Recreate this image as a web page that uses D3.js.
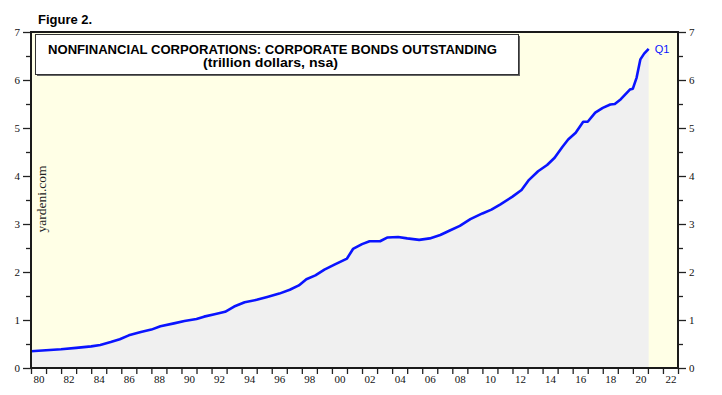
<!DOCTYPE html>
<html>
<head>
<meta charset="utf-8">
<script src="https://cdn.jsdelivr.net/npm/d3@7"></script>
<style>
  body { margin: 0; background: #fff; }
  svg { display: block; }
  .tick text { font-family: "Liberation Serif", "Times New Roman", serif; font-size: 11px; fill: #111; }
</style>
</head>
<body>
<svg id="chart" width="722" height="395"></svg>
<script>
// quarterly readings (decimal year), trillion dollars
let dates = [1980.0, 1981.0, 1982.0, 1983.0, 1984.0, 1984.6, 1985.3, 1985.9, 1986.5, 1987.3,
  1988.0, 1988.6, 1989.5, 1990.2, 1991.0, 1991.5, 1992.2, 1992.9, 1993.5, 1994.2,
  1995.0, 1995.7, 1996.5, 1997.2, 1997.8, 1998.3, 1998.9, 1999.5, 2000.2, 2001.0,
  2001.4, 2002.0, 2002.5, 2003.2, 2003.7, 2004.4, 2005.0, 2005.8, 2006.5, 2007.2,
  2007.8, 2008.5, 2009.2, 2010.0, 2010.6, 2011.2, 2012.0, 2012.6, 2013.1, 2013.7,
  2014.3, 2014.8, 2015.3, 2015.7, 2016.2, 2016.7, 2017.0, 2017.5, 2018.0, 2018.5,
  2018.8, 2019.2, 2019.8, 2020.0, 2020.25, 2020.5, 2020.75, 2021.05];
let bonds = [0.35, 0.37, 0.39, 0.42, 0.45, 0.48, 0.54, 0.60, 0.68, 0.75,
  0.80, 0.87, 0.93, 0.98, 1.02, 1.07, 1.12, 1.17, 1.28, 1.37,
  1.42, 1.48, 1.55, 1.63, 1.72, 1.85, 1.93, 2.05, 2.16, 2.28,
  2.48, 2.58, 2.64, 2.64, 2.72, 2.73, 2.70, 2.67, 2.70, 2.77,
  2.86, 2.96, 3.10, 3.22, 3.30, 3.41, 3.57, 3.71, 3.92, 4.10,
  4.23, 4.38, 4.60, 4.76, 4.90, 5.13, 5.13, 5.32, 5.42, 5.49,
  5.50, 5.60, 5.80, 5.82, 6.05, 6.43, 6.55, 6.65];
let yearTicks = d3.range(1980, 2024);
let yearLabels = d3.range(1980, 2023, 2);
let valueTicks = d3.range(0, 8);
let minorTicks = d3.range(0.5, 7, 1);

let svg = d3.select("#chart");
let [x0, x1, y0, y1] = [31, 678, 32, 368];
let x = d3.scaleLinear().domain([1980, 2023]).range([x0, x1]);
let y = d3.scaleLinear().domain([0, 7]).range([y1, y0]);
let sans = "Liberation Sans, Arial, sans-serif";

// plot background
svg.append("rect")
  .attr("x", x0).attr("y", y0)
  .attr("width", x1 - x0).attr("height", y1 - y0)
  .attr("fill", "#ffffe6");

let pts = dates.map((d, i) => [d, bonds[i]]);
let area = d3.area().x(d => x(d[0])).y0(y(0)).y1(d => y(d[1]));
svg.append("path").attr("d", area(pts)).attr("fill", "#f0f0f0");

let line = d3.line().x(d => x(d[0])).y(d => y(d[1]));
svg.append("path").attr("d", line(pts))
  .attr("fill", "none").attr("stroke", "#0a14ff")
  .attr("stroke-width", 2.6).attr("stroke-linejoin", "round");

// axes
svg.append("g").attr("transform", `translate(0,${y1})`)
  .call(d3.axisBottom(x).tickValues(yearTicks).tickSize(6).tickFormat(""));
svg.append("g").attr("transform", `translate(0,${y1})`)
  .call(d3.axisBottom(x).tickValues(yearLabels.map(v => v + 0.5)).tickSize(0).tickPadding(7)
    .tickFormat(v => String(Math.floor(v) % 100).padStart(2, "0")));

svg.append("g").attr("transform", `translate(${x0},0)`)
  .call(d3.axisLeft(y).tickValues(valueTicks).tickSize(8).tickPadding(3).tickFormat(d3.format("d")));
svg.append("g").attr("transform", `translate(${x0},0)`)
  .call(d3.axisLeft(y).tickValues(minorTicks).tickSize(5).tickFormat(""));
svg.append("g").attr("transform", `translate(${x1},0)`)
  .call(d3.axisRight(y).tickValues(valueTicks).tickSize(8).tickPadding(3).tickFormat(d3.format("d")));
svg.append("g").attr("transform", `translate(${x1},0)`)
  .call(d3.axisRight(y).tickValues(minorTicks).tickSize(5).tickFormat(""));

svg.selectAll(".domain").remove();
svg.selectAll(".tick line").attr("stroke", "#222").attr("stroke-width", 1.3);

// frame
svg.append("rect")
  .attr("x", x0).attr("y", y0)
  .attr("width", x1 - x0).attr("height", y1 - y0)
  .attr("fill", "none").attr("stroke", "#1a1a1a").attr("stroke-width", 2);

// title box
svg.append("rect").attr("x", 37).attr("y", 36).attr("width", 483).attr("height", 40).attr("fill", "#666");
svg.append("rect").attr("x", 35.5).attr("y", 34.5).attr("width", 483).attr("height", 40)
  .attr("fill", "#fff").attr("stroke", "#333").attr("stroke-width", 1);
svg.append("text").attr("x", 48).attr("y", 54)
  .attr("font-family", sans).attr("font-weight", "bold").attr("font-size", 12)
  .attr("textLength", 449).attr("lengthAdjust", "spacingAndGlyphs")
  .text("NONFINANCIAL CORPORATIONS: CORPORATE BONDS OUTSTANDING");
svg.append("text").attr("x", 203).attr("y", 66.5)
  .attr("font-family", sans).attr("font-weight", "bold").attr("font-size", 12)
  .attr("textLength", 135).attr("lengthAdjust", "spacingAndGlyphs")
  .text("(trillion dollars, nsa)");

svg.append("text").attr("x", 38).attr("y", 24)
  .attr("font-family", sans).attr("font-weight", "bold").attr("font-size", 13)
  .text("Figure 2.");

svg.append("text").attr("transform", "translate(46,199) rotate(-90)").attr("text-anchor", "middle")
  .attr("font-family", "Liberation Serif, Times New Roman, serif").attr("font-size", 13.5).attr("fill", "#222")
  .text("yardeni.com");

let last = pts[pts.length - 1];
svg.append("text").attr("x", x(last[0]) + 6).attr("y", y(last[1]) + 4)
  .attr("font-family", sans).attr("font-size", 11).attr("fill", "#0a14ff")
  .text("Q1");
</script>
</body>
</html>
